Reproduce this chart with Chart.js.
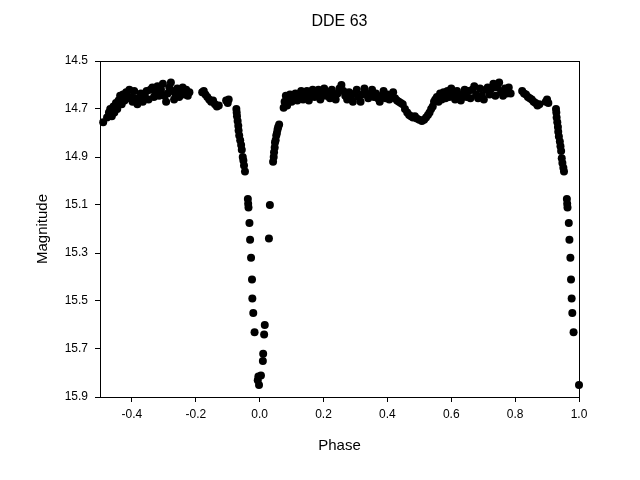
<!DOCTYPE html>
<html><head><meta charset="utf-8">
<script src="https://cdn.jsdelivr.net/npm/chart.js@4"></script>
<style>html,body{margin:0;padding:0;background:#fff}</style>
</head><body>
<canvas id="c" width="640" height="480"></canvas>
<script>
const chartTitle = 'DDE 63';
const xLabel = 'Phase';
const yLabel = 'Magnitude';
const xTicks = [-0.4, -0.2, 0.0, 0.2, 0.4, 0.6, 0.8, 1.0];
const yTicks = [14.5, 14.7, 14.9, 15.1, 15.3, 15.5, 15.7, 15.9];

const phase = [
-0.490,-0.478,-0.472,-0.468,-0.463,-0.458,-0.455,-0.450,-0.446,-0.442,-0.437,-0.432,-0.428,-0.423,-0.418,-0.413,-0.408,-0.403,-0.398,-0.393,
-0.388,-0.383,-0.378,-0.372,-0.366,-0.360,-0.354,-0.348,-0.342,-0.336,-0.331,-0.326,-0.320,-0.315,-0.309,-0.303,-0.298,-0.293,-0.288,-0.283,
-0.278,-0.273,-0.268,-0.263,-0.258,-0.252,-0.247,-0.241,-0.236,-0.230,-0.225,-0.220,
-0.180,-0.175,-0.170,-0.164,-0.158,-0.152,-0.146,-0.140,-0.134,-0.128,-0.105,-0.100,-0.097,
-0.073,-0.072,-0.071,-0.069,-0.067,-0.066,-0.064,-0.061,-0.058,-0.056,-0.053,-0.051,-0.049,-0.046,-0.037,-0.036,-0.035,-0.032,-0.030,-0.027,
-0.024,-0.023,-0.020,-0.016,-0.004,-0.006,-0.002,0.004,0.010,0.011,0.014,0.016,0.029,0.032,
0.042,0.044,0.045,0.047,0.048,0.050,0.052,0.054,0.056,0.058,0.061,
0.075,0.078,0.082,0.086,0.090,0.095,0.100,0.106,0.112,0.118,0.124,0.130,0.136,0.142,0.148,0.154,0.160,0.166,0.172,0.178,
0.184,0.190,0.196,0.202,0.208,0.214,0.220,0.226,0.232,0.238,0.244,0.250,0.256,0.262,0.268,0.274,0.280,0.286,0.292,0.298,
0.304,0.310,0.316,0.322,0.328,0.334,0.340,0.346,0.352,0.358,0.364,0.370,0.376,0.382,0.388,0.394,0.400,0.406,0.412,0.418,
0.424,0.430,0.436,0.442,
0.448,0.455,0.462,0.468,0.474,0.480,0.486,0.492,0.500,0.508,0.515,0.521,0.527,0.532,0.537,0.542,0.546,0.550,
0.555,0.560,0.565,0.570,0.576,0.582,0.588,0.594,0.600,0.606,0.612,0.618,0.624,0.630,0.636,0.642,0.648,0.654,0.660,0.666,
0.672,0.678,0.684,0.690,0.696,0.702,0.708,0.714,0.720,0.726,0.732,0.738,0.744,0.750,0.756,0.762,0.768,0.774,0.780,0.786,
0.822,0.828,0.834,0.840,0.846,0.852,0.858,0.864,0.870,0.876,0.896,0.900,0.904,
0.928,0.929,0.930,0.932,0.934,0.935,0.937,0.940,0.942,0.944,0.946,0.948,0.951,0.953,0.962,0.963,0.964,0.968,0.970,0.973,
0.975,0.977,0.979,0.983,1.000
];

const mag = [
14.755,14.735,14.715,14.700,14.730,14.690,14.715,14.675,14.700,14.665,14.645,14.680,14.640,14.665,14.630,14.655,14.620,14.650,14.670,14.625,
14.655,14.680,14.660,14.635,14.670,14.645,14.625,14.660,14.620,14.610,14.650,14.630,14.605,14.645,14.620,14.595,14.645,14.670,14.635,14.610,
14.590,14.625,14.660,14.640,14.615,14.650,14.625,14.610,14.640,14.620,14.645,14.630,
14.630,14.625,14.640,14.650,14.660,14.670,14.665,14.680,14.690,14.685,14.665,14.675,14.660,
14.700,14.715,14.730,14.750,14.770,14.790,14.810,14.830,14.850,14.870,14.900,14.915,14.935,14.960,15.075,15.095,15.110,15.175,15.245,15.320,
15.410,15.490,15.550,15.630,15.815,15.830,15.850,15.810,15.750,15.720,15.640,15.600,15.240,15.100,
14.920,14.900,14.880,14.860,14.840,14.830,14.810,14.800,14.785,14.775,14.765,
14.695,14.670,14.645,14.685,14.660,14.640,14.670,14.650,14.635,14.665,14.645,14.625,14.660,14.640,14.625,14.665,14.640,14.620,14.650,14.635,
14.620,14.660,14.635,14.615,14.645,14.630,14.655,14.620,14.640,14.660,14.635,14.615,14.600,14.625,14.645,14.660,14.630,14.650,14.670,14.635,
14.620,14.650,14.670,14.640,14.615,14.635,14.655,14.640,14.620,14.650,14.635,14.655,14.670,14.645,14.625,14.655,14.640,14.660,14.645,14.630,
14.655,14.665,14.670,14.675,
14.680,14.700,14.715,14.725,14.730,14.735,14.730,14.740,14.745,14.750,14.745,14.735,14.725,14.715,14.700,14.690,14.670,14.660,
14.650,14.670,14.635,14.660,14.630,14.655,14.625,14.650,14.615,14.640,14.660,14.625,14.650,14.665,14.640,14.620,14.650,14.625,14.655,14.620,
14.605,14.640,14.655,14.615,14.645,14.660,14.620,14.610,14.640,14.615,14.595,14.645,14.610,14.590,14.630,14.645,14.615,14.635,14.610,14.635,
14.625,14.635,14.640,14.650,14.655,14.660,14.670,14.675,14.685,14.680,14.670,14.660,14.675,
14.700,14.715,14.735,14.755,14.775,14.795,14.815,14.835,14.855,14.875,14.905,14.925,14.945,14.960,15.075,15.095,15.110,15.175,15.245,15.320,
15.410,15.490,15.550,15.630,15.850
];

const points = phase.map((p, i) => ({x: p, y: mag[i]}));
const FONT = '"Liberation Sans", Arial, sans-serif';

const framePlugin = {
  id: 'frame',
  beforeDatasetsDraw(chart) {
    const {ctx, chartArea: a} = chart;
    ctx.save();
    ctx.strokeStyle = '#000';
    ctx.lineWidth = 1;
    ctx.strokeRect(Math.round(a.left) + 0.5, Math.round(a.top) + 0.5, Math.round(a.right - a.left), Math.round(a.bottom - a.top));
    ctx.restore();
  },
  afterDraw(chart) {
    const {ctx, chartArea: a} = chart;
    ctx.save();
    ctx.fillStyle = '#000';
    ctx.font = '16px ' + FONT;
    ctx.textAlign = 'center';
    ctx.textBaseline = 'middle';
    ctx.fillText(chartTitle, (a.left + a.right) / 2, 22);
    ctx.restore();
  }
};

new Chart(document.getElementById('c'), {
  type: 'scatter',
  data: {
    datasets: [{
      data: points,
      backgroundColor: '#000',
      borderColor: '#000',
      borderWidth: 0,
      pointRadius: 4,
      pointHoverRadius: 4,
      clip: false
    }]
  },
  options: {
    responsive: false,
    devicePixelRatio: 1,
    animation: false,
    layout: {padding: {left: 0, top: 61, right: 61, bottom: 0}},
    plugins: {legend: {display: false}, tooltip: {enabled: false}, title: {display: false}},
    scales: {
      x: {
        type: 'linear',
        min: -0.5, max: 1.0,
        afterBuildTicks: s => { s.ticks = xTicks.map(v => ({value: v})); },
        afterFit: s => { s.height = 83; },
        border: {display: false},
        grid: {display: true, drawOnChartArea: false, drawTicks: true, tickLength: 5, color: '#000', lineWidth: 1},
        ticks: {color: '#000', font: {family: FONT, size: 12}, padding: 5, maxRotation: 0, autoSkip: false,
                callback: v => Number(v).toFixed(1)},
        title: {display: true, text: xLabel, color: '#000', font: {family: FONT, size: 15}, padding: {top: 0, bottom: 25}}
      },
      y: {
        type: 'linear',
        reverse: true,
        min: 14.5, max: 15.9,
        afterBuildTicks: s => { s.ticks = yTicks.map(v => ({value: v})); },
        afterFit: s => { s.width = 100; },
        border: {display: false},
        grid: {display: true, drawOnChartArea: false, drawTicks: true, tickLength: 5, color: '#000', lineWidth: 1},
        ticks: {color: '#000', font: {family: FONT, size: 12}, padding: 7, autoSkip: false,
                callback: v => Number(v).toFixed(1)},
        title: {display: true, text: yLabel, color: '#000', font: {family: FONT, size: 15}, padding: {top: 34, bottom: 0}}
      }
    }
  },
  plugins: [framePlugin]
});
</script>
</body></html>
